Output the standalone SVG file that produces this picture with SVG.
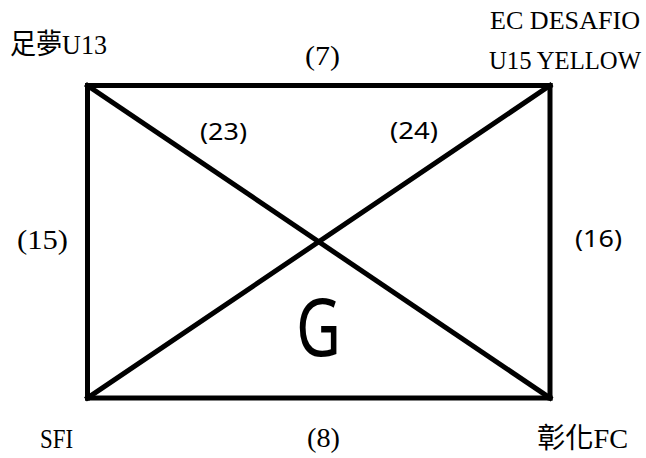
<svg xmlns="http://www.w3.org/2000/svg" width="646" height="458" viewBox="0 0 646 458">
<style>
.e{stroke:#000;stroke-width:5;fill:none;stroke-linecap:square}
.s{font-family:"Liberation Serif","Noto Sans CJK TC",serif;font-size:28px;fill:#000}
.n{font-family:"Noto Sans","Open Sans",sans-serif;font-size:24px;fill:#000}
.t{font-size:25px}
</style>
<rect width="646" height="458" fill="#fff"/>
<g id="connectors">
<line class="e" x1="87.5" y1="85.5" x2="550" y2="85.5"/>
<line class="e" x1="87.5" y1="398" x2="550" y2="398"/>
<line class="e" x1="87.5" y1="85.5" x2="87.5" y2="398"/>
<line class="e" x1="550" y1="85.5" x2="550" y2="398"/>
<line class="e" x1="87.5" y1="85.5" x2="550" y2="398"/>
<line class="e" x1="550" y1="85.5" x2="87.5" y2="398"/>
<text class="s" x="305" y="65" textLength="35" lengthAdjust="spacingAndGlyphs">(7)</text>
<text class="s" x="307" y="447" textLength="33" lengthAdjust="spacingAndGlyphs">(8)</text>
<text class="s" x="17" y="249" textLength="51" lengthAdjust="spacingAndGlyphs">(15)</text>
<text class="n" x="575" y="247" textLength="47" lengthAdjust="spacingAndGlyphs">(16)</text>
<text class="n" x="200" y="140" textLength="47" lengthAdjust="spacingAndGlyphs">(23)</text>
<text class="n" x="390" y="139" textLength="48" lengthAdjust="spacingAndGlyphs">(24)</text>
</g>
<g id="node-zumeng">
<text class="s" x="10" y="54" textLength="97" lengthAdjust="spacingAndGlyphs">足夢U13</text>
</g>
<g id="node-ec-desafio">
<text class="s t" x="490" y="29" textLength="150" lengthAdjust="spacingAndGlyphs">EC DESAFIO</text>
<text class="s t" x="489" y="69" textLength="152" lengthAdjust="spacingAndGlyphs">U15 YELLOW</text>
</g>
<g id="node-sfi">
<text class="s" x="40" y="448" textLength="33" lengthAdjust="spacingAndGlyphs">SFI</text>
</g>
<g id="node-changhua">
<text class="s" x="537" y="448" textLength="91" lengthAdjust="spacingAndGlyphs">彰化FC</text>
</g>
<g id="group-label">
<text class="n" x="296" y="356" textLength="45" lengthAdjust="spacingAndGlyphs" style="font-size:80px">G</text>
</g>
</svg>
